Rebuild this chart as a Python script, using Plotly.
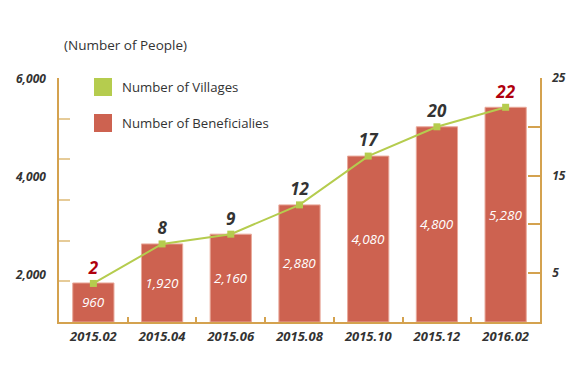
import plotly.graph_objects as go

# ---- data ----
periods = ["2015.02", "2015.04", "2015.06", "2015.08", "2015.10", "2015.12", "2016.02"]
beneficiaries = [960, 1920, 2160, 2880, 4080, 4800, 5280]
villages = [2, 8, 9, 12, 17, 20, 22]
# marker heights as drawn in the reference (first point sits on top of its bar)
villages_drawn = [3.95, 8, 9, 12, 17, 20, 22]
left_tick_labels = ["6,000", "4,000", "2,000"]
left_tick_label_pos = [6000, 3590, 1180]
right_tick_vals = [0, 5, 10, 15, 20, 25]
right_tick_text = ["", "5", "", "15", "", "25"]

BAR = "#CD6250"
GREEN = "#B5CC4E"
AXIS = "#D4A24F"
TICK = "#E6CB98"
DARK = "#333333"
RED = "#B0000E"
FONT = "Open Sans"

label_colors = [RED if i in (0, len(villages) - 1) else DARK for i in range(len(villages))]

fig = go.Figure()
fig.add_trace(go.Bar(
    x=periods, y=beneficiaries,
    marker=dict(color=BAR, line=dict(color="#E9A99A", width=1)),
    text=[f"{v:,}" for v in beneficiaries],
    textposition="inside", insidetextanchor="middle",
    insidetextfont=dict(family=FONT, size=13.5, color="white", style="italic"),
    name="Number of Beneficialies", showlegend=False,
))
fig.add_trace(go.Scatter(
    x=periods, y=villages_drawn, yaxis="y2",
    mode="lines+markers+text",
    line=dict(color=GREEN, width=2),
    marker=dict(symbol="square", size=7, color=GREEN),
    text=[str(v) for v in villages], textposition="top center",
    textfont=dict(family=FONT, size=17, color=label_colors, weight="bold", style="italic"),
    cliponaxis=False, name="Number of Villages", showlegend=False,
))

fig.update_layout(
    width=580, height=380,
    margin=dict(l=59, r=40, t=78, b=58),
    paper_bgcolor="white", plot_bgcolor="white",
    bargap=0.4,
    font=dict(family=FONT, color=DARK),
    xaxis=dict(
        type="category", range=[-0.5, 6.5],
        showline=True, linecolor=AXIS, linewidth=1.5,
        ticks="inside", tickson="boundaries", ticklen=5, tickcolor=AXIS, tickwidth=1.5,
        tickfont=dict(family=FONT, size=13, color=DARK, weight="bold", style="italic"),
        ticklabelstandoff=2,
        showgrid=False, zeroline=False,
    ),
    yaxis=dict(
        range=[0, 6000], dtick=1000,
        showline=True, linecolor=AXIS, linewidth=1.5,
        ticks="inside", ticklen=11, tickcolor=TICK, tickwidth=1.5,
        showticklabels=False, showgrid=False, zeroline=False,
    ),
    yaxis2=dict(
        overlaying="y", side="right", range=[0, 25],
        tickvals=right_tick_vals, ticktext=right_tick_text,
        showline=True, linecolor=AXIS, linewidth=1.5,
        ticks="inside", ticklen=12, tickcolor=AXIS, tickwidth=1.5,
        tickfont=dict(family=FONT, size=12, color=DARK, weight="bold", style="italic"),
        ticklabelstandoff=8,
        showgrid=False, zeroline=False,
    ),
)

# left-axis labels
for txt, pos in zip(left_tick_labels, left_tick_label_pos):
    fig.add_annotation(x=0, xref="paper", y=pos, yref="y", text=txt, showarrow=False,
                       xanchor="right", yanchor="middle", xshift=-11,
                       font=dict(family=FONT, size=12, color=DARK, weight="bold", style="italic"))

# unit title
fig.add_annotation(x=(62 - 59) / 481, xref="paper", y=(322 - 45) / 244, yref="paper",
                   text="(Number of People)", showarrow=False, xanchor="left", yanchor="middle",
                   font=dict(family=FONT, size=13.5, color=DARK))

# legend (drawn)
legend_items = [("Number of Villages", GREEN, 78), ("Number of Beneficialies", BAR, 114)]
for name, col, top in legend_items:
    fig.add_shape(type="rect", xref="paper", yref="paper",
                  x0=(94 - 59) / 481, x1=(112 - 59) / 481,
                  y0=(322 - top - 18) / 244, y1=(322 - top) / 244,
                  fillcolor=col, line=dict(width=0))
    fig.add_annotation(x=(120 - 59) / 481, xref="paper", y=(322 - top - 9) / 244, yref="paper",
                       text=name, showarrow=False, xanchor="left", yanchor="middle",
                       font=dict(family=FONT, size=13.2, color=DARK))

fig.write_html("out.html", config={"displayModeBar": False},
               post_script="document.body.style.margin='0';")
